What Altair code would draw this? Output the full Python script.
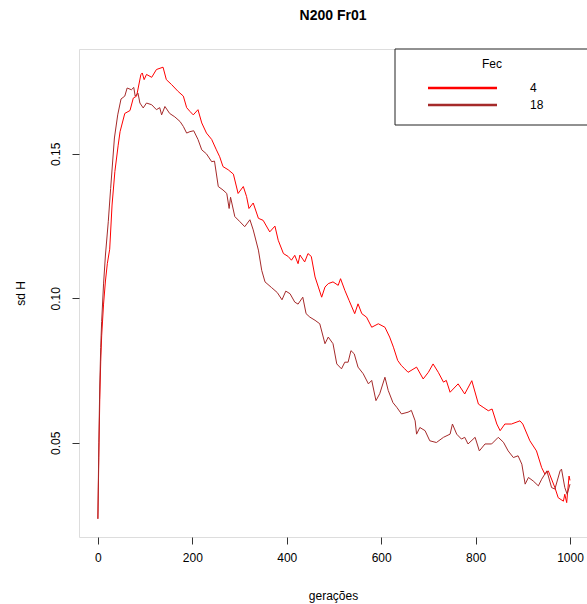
import altair as alt
import pandas as pd

# Fec = 4 (red)
gen_4 = [0, 2, 4, 6, 8, 12, 16, 20, 25, 30, 36, 43, 47, 57, 68, 75, 82, 91, 94, 98,
         103, 114, 124, 138, 145, 156, 170, 181, 188, 195, 202, 212, 220, 230, 241, 251,
         258, 265, 276, 287, 297, 308, 315, 320, 329, 340, 350, 364, 375, 382, 393, 403,
         410, 417, 424, 428, 438, 445, 452, 460, 467, 474, 481, 488, 498, 509, 514, 523,
         532, 544, 551, 559, 569, 580, 594, 608, 618, 626, 635, 643, 650, 657, 675, 689,
         700, 710, 721, 732, 738, 746, 763, 777, 792, 806, 816, 827, 835, 845, 852, 862,
         876, 894, 900, 915, 929, 940, 947, 954, 968, 975, 986, 989, 993, 998, 1000]
sd_4 = [0.0237, 0.045, 0.065, 0.078, 0.087, 0.098, 0.106, 0.112, 0.117, 0.1323, 0.1439,
        0.153, 0.1577, 0.164, 0.165, 0.1693, 0.170, 0.1774, 0.178, 0.1757, 0.1775, 0.1765,
        0.1792, 0.180, 0.1757, 0.174, 0.1716, 0.170, 0.166, 0.1647, 0.1635, 0.1653, 0.1607,
        0.1572, 0.155, 0.1514, 0.149, 0.1456, 0.1445, 0.143, 0.1363, 0.1387, 0.1352, 0.1311,
        0.133, 0.1277, 0.127, 0.123, 0.125, 0.1201, 0.1155, 0.1145, 0.1132, 0.1149, 0.112,
        0.115, 0.1126, 0.1155, 0.1145, 0.1074, 0.1039, 0.1004, 0.1039, 0.1051, 0.1057,
        0.1045, 0.1068, 0.1028, 0.0993, 0.0947, 0.0981, 0.0947, 0.0935, 0.090, 0.0912,
        0.090, 0.0866, 0.0831, 0.0785, 0.0767, 0.0756, 0.0744, 0.0762, 0.0721, 0.0744,
        0.0773, 0.0744, 0.071, 0.0716, 0.0675, 0.0704, 0.0669, 0.0715, 0.0634, 0.0623,
        0.0611, 0.0617, 0.0565, 0.0542, 0.0565, 0.0565, 0.0576, 0.0565, 0.0507, 0.0472,
        0.0414, 0.0391, 0.0403, 0.0345, 0.031, 0.0298, 0.0322, 0.0293, 0.0385, 0.037]

# Fec = 18 (brown)
gen_18 = [0, 2, 4, 6, 8, 12, 16, 22, 27, 35, 42, 49, 57, 62, 71, 76, 79, 85, 89, 96,
          103, 114, 124, 131, 135, 142, 152, 163, 174, 181, 188, 195, 203, 212, 220, 230,
          241, 247, 255, 265, 273, 278, 281, 290, 301, 311, 322, 329, 340, 347, 354, 368,
          380, 390, 398, 407, 417, 424, 434, 441, 449, 460, 470, 481, 488, 498, 506, 516,
          523, 530, 536, 543, 551, 562, 573, 580, 589, 597, 608, 615, 625, 633, 643, 657,
          664, 672, 675, 682, 693, 703, 717, 732, 746, 751, 760, 770, 777, 784, 799, 808,
          820, 834, 848, 859, 869, 880, 890, 898, 905, 912, 922, 933, 940, 951, 961, 968,
          979, 982, 989, 994, 1000]
sd_18 = [0.0237, 0.05, 0.07, 0.083, 0.092, 0.105, 0.115, 0.1265, 0.138, 0.1555, 0.1635,
         0.169, 0.170, 0.1728, 0.1722, 0.173, 0.170, 0.171, 0.1676, 0.1659, 0.1676, 0.167,
         0.1653, 0.166, 0.1635, 0.1664, 0.164, 0.1628, 0.1612, 0.1595, 0.1572, 0.1577,
         0.158, 0.155, 0.1514, 0.150, 0.1473, 0.1475, 0.1387, 0.1375, 0.1363, 0.1311, 0.135,
         0.1283, 0.1265, 0.1248, 0.1272, 0.1237, 0.1167, 0.1097, 0.1057, 0.1037, 0.102,
         0.0995, 0.1025, 0.1016, 0.0987, 0.098, 0.1004, 0.0947, 0.0935, 0.0924, 0.0912,
         0.0843, 0.0866, 0.0843, 0.0773, 0.0756, 0.0779, 0.0779, 0.0819, 0.0808, 0.0762,
         0.0739, 0.0704, 0.0716, 0.0646, 0.067, 0.0727, 0.0681, 0.0639, 0.0623, 0.060,
         0.0606, 0.0612, 0.0576, 0.053, 0.0553, 0.0542, 0.0507, 0.0501, 0.0519, 0.053,
         0.0565, 0.053, 0.0513, 0.0519, 0.0496, 0.0519, 0.0472, 0.0496, 0.0496, 0.0519,
         0.0502, 0.0472, 0.0449, 0.0455, 0.0426, 0.0357, 0.038, 0.0368, 0.0351, 0.0374,
         0.0403, 0.0345, 0.034, 0.0403, 0.0409, 0.0345, 0.0322, 0.0357]

fec_levels = ["4", "18"]
fec_colors = ["#FF0000", "#A52A2A"]
x_ticks = [0, 200, 400, 600, 800, 1000]
y_ticks = [0.05, 0.10, 0.15]

df = pd.concat([
    pd.DataFrame({"gen": gen_4, "sd": sd_4, "Fec": "4"}),
    pd.DataFrame({"gen": gen_18, "sd": sd_18, "Fec": "18"}),
], ignore_index=True)

FONT = "Liberation Sans"
W, H = 508, 488

color = alt.Color("Fec:N", scale=alt.Scale(domain=fec_levels, range=fec_colors), legend=None)

lines = alt.Chart(df).mark_line(strokeWidth=1).encode(
    x=alt.X("gen:Q", scale=alt.Scale(domain=[-40, 1036], nice=False, zero=False),
            axis=alt.Axis(values=x_ticks, format="d", title="gerações", grid=False, domain=False,
                          tickSize=7, tickColor="#333333", labelPadding=8,
                          labelFontSize=12, labelFont=FONT, labelColor="#000000",
                          titleFont=FONT, titleFontSize=12, titleFontWeight="normal",
                          titleColor="#000000", titleY=58, titleBaseline="middle")),
    y=alt.Y("sd:Q", scale=alt.Scale(domain=[0.0174, 0.1863], nice=False, zero=False),
            axis=alt.Axis(values=y_ticks, format=".2f", title="sd H", grid=False, domain=False,
                          tickSize=7, tickColor="#333333", labelAngle=-90, labelAlign="center",
                          labelBaseline="bottom", labelPadding=10,
                          labelFontSize=12, labelFont=FONT, labelColor="#000000",
                          titleFont=FONT, titleFontSize=12, titleFontWeight="normal",
                          titleColor="#000000", titleX=-59, titleBaseline="middle")),
    color=color,
    order="gen:Q",
)

# legend (decoration built from the Fec levels and colours)
leg_box = alt.Chart(pd.DataFrame({"a": [0]})).mark_rect(
    fill="white", stroke="#222222", strokeWidth=1
).encode(x=alt.value(316), x2=alt.value(515), y=alt.value(0), y2=alt.value(76))

leg_title = alt.Chart(pd.DataFrame({"t": ["Fec"]})).mark_text(
    font=FONT, fontSize=12, color="#000000"
).encode(x=alt.value(413), y=alt.value(15), text="t:N")

leg_items = []
for i, (lvl, col) in enumerate(zip(fec_levels, fec_colors)):
    yy = 39 + i * 17
    leg_items.append(
        alt.Chart(pd.DataFrame({"f": [lvl]})).mark_rule(color=col, strokeWidth=2.5).encode(
            x=alt.value(349), x2=alt.value(418), y=alt.value(yy))
    )
    leg_items.append(
        alt.Chart(pd.DataFrame({"f": [lvl]})).mark_text(
            font=FONT, fontSize=12, color="#000000", align="left"
        ).encode(x=alt.value(451), y=alt.value(yy), text="f:N")
    )

chart = alt.layer(lines, leg_box, leg_title, *leg_items).properties(
    width=W, height=H,
    title=alt.TitleParams("N200 Fr01", font=FONT, fontSize=14, fontWeight="bold",
                          color="#000000", anchor="middle", offset=26),
    autosize=alt.AutoSizeParams(type="none"),
    padding={"left": 79, "top": 49, "right": 0, "bottom": 67},
).configure_view(stroke="#222222", strokeWidth=1, fill="white").configure(background="white")

chart.save("out.html", embed_options={"renderer": "svg", "actions": False})
